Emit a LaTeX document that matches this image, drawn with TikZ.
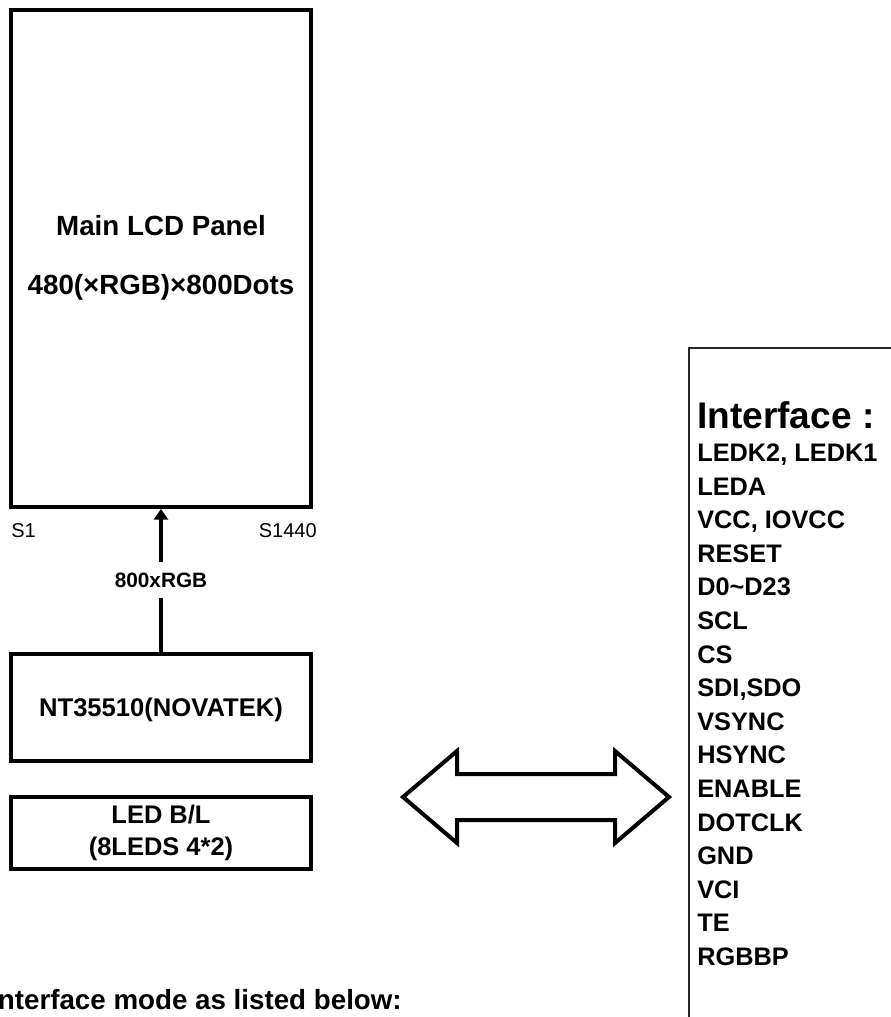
\documentclass[tikz,border=0pt]{standalone}
\usepackage{fontspec}
\setmainfont{Liberation Sans}
\usetikzlibrary{positioning,arrows.meta}

\tikzset{
  blk/.style={draw,line width=3pt,minimum width=225pt,inner sep=0pt},
  big/.style={inner sep=0pt,font=\fontsize{20.8}{25}\selectfont\bfseries,text height=14.9pt,text depth=0pt},
  pinlbl/.style={inner sep=0pt,font=\fontsize{15}{18}\selectfont,text height=10.7pt,text depth=0pt},
  rate/.style={fill=white,inner xsep=2pt,inner ysep=0pt,minimum height=27pt,font=\fontsize{15.6}{18}\selectfont\bfseries,text height=11.2pt,text depth=0pt},
  sig/.style={anchor=west,inner sep=0pt,font=\fontsize{19}{23}\selectfont\bfseries,text height=13.6pt,text depth=0pt},
  sighead/.style={anchor=west,inner sep=0pt,font=\fontsize{27.8}{33}\selectfont\bfseries,text height=19.9pt,text depth=0pt},
}

\begin{document}
\begin{tikzpicture}[x=0.75pt,y=-0.75pt]
\useasboundingbox (0,0) rectangle (891,1017);
\node[blk,minimum height=373.1pt] (panel) at (161,258.25) {};
\node[big] (title) at (161,226) {Main LCD Panel};
\node[big] (dots) at (161,285) {480(×RGB)×800Dots};
\node[pinlbl,anchor=west] (s1) at ([yshift=-15.75pt,xshift=1.5pt]panel.south west) {S1};
\node[pinlbl,anchor=east] (s1440) at ([yshift=-15.75pt,xshift=3pt]panel.south east) {S1440};
\node[blk,minimum height=80.25pt,font=\fontsize{19.2}{23}\selectfont\bfseries,text height=13.7pt,text depth=0pt] (driver) at (161,707.5) {NT35510(NOVATEK)};
\node[blk,minimum height=54pt,align=center,font=\fontsize{19.1}{24}\selectfont\bfseries] (backlight) at (161,833) {LED B/L\\(8LEDS 4*2)};
\draw[line width=2.5pt,-{Triangle[length=8pt,width=10.5pt]}] (driver.north) -- node[rate] (rgb) {800xRGB} (panel.south);
\draw[line width=3pt,line join=miter] (403,797) -- (457,751) -- (457,774) -- (615,774) -- (615,751) -- (669,797) -- (615,843) -- (615,820) -- (457,820) -- (457,843) -- cycle;
\draw[line width=1pt,black!85] (689,1030) |- (905,348);
\node[sighead] (ifhead) at (697,415) {Interface :};
\node[sig] (sig1) at (697,452) {LEDK2, LEDK1};
\node[sig] (sig2) at (697,486) {LEDA};
\node[sig] (sig3) at (697,519) {VCC, IOVCC};
\node[sig] (sig4) at (697,553) {RESET};
\node[sig] (sig5) at (697,586) {D0\textasciitilde D23};
\node[sig] (sig6) at (697,620) {SCL};
\node[sig] (sig7) at (697,654) {CS};
\node[sig] (sig8) at (697,687) {SDI,SDO};
\node[sig] (sig9) at (697,721) {VSYNC};
\node[sig] (sig10) at (697,754) {HSYNC};
\node[sig] (sig11) at (697,788) {ENABLE};
\node[sig] (sig12) at (697,822) {DOTCLK};
\node[sig] (sig13) at (697,855) {GND};
\node[sig] (sig14) at (697,889) {VCI};
\node[sig] (sig15) at (697,922) {TE};
\node[sig] (sig16) at (697,956) {RGBBP};
\node[big,anchor=east] (note) at (402,1000) {nterface mode as listed below:};
\end{tikzpicture}
\end{document}
